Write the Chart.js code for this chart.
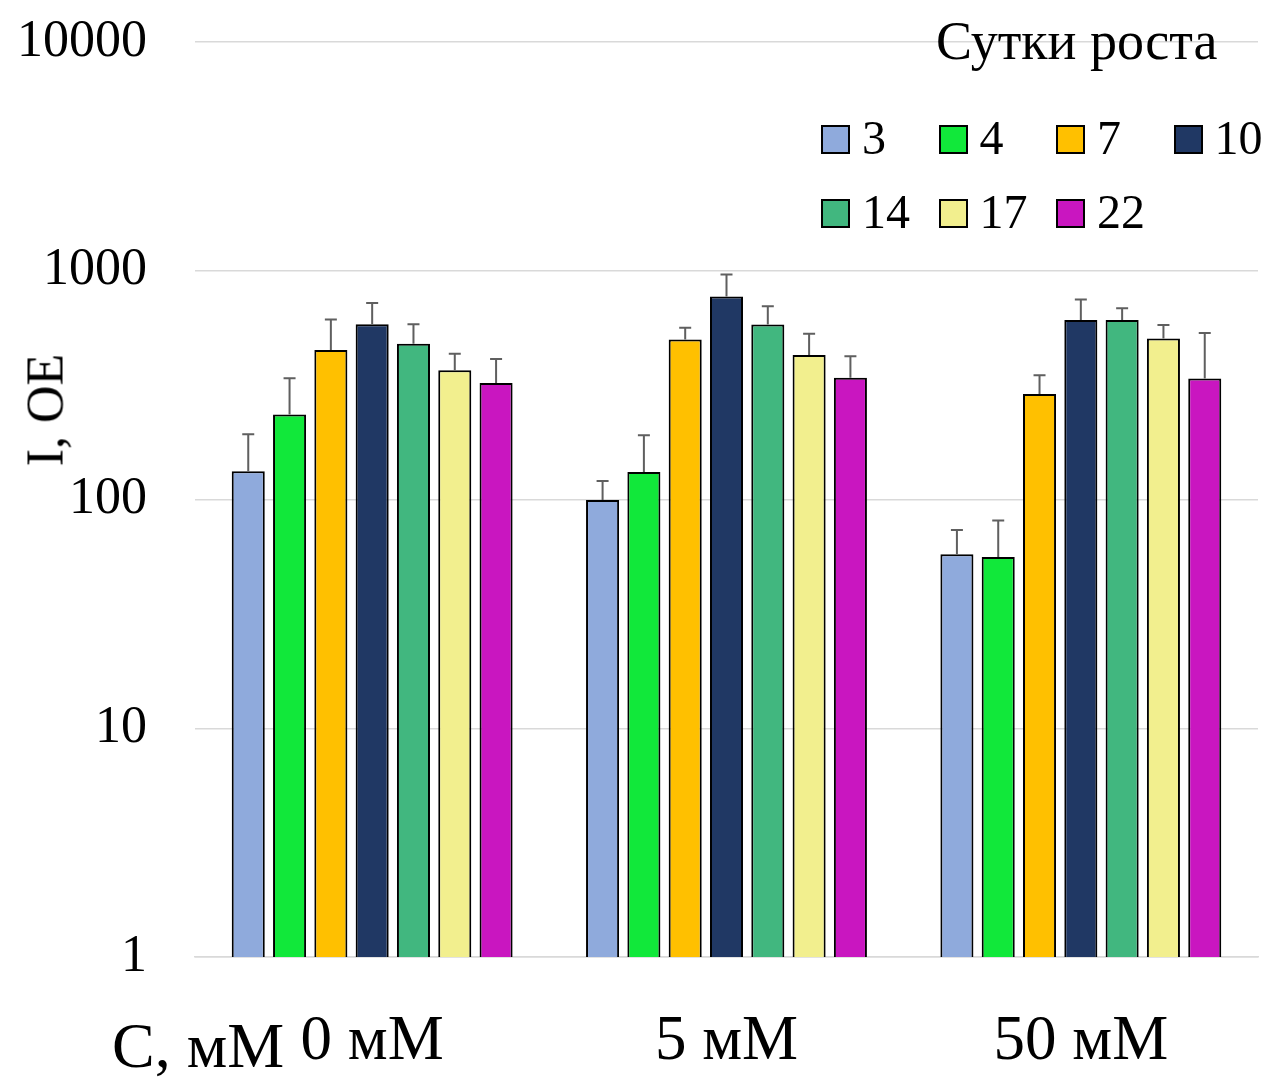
<!DOCTYPE html>
<html>
<head>
<meta charset="utf-8">
<script src="https://cdn.jsdelivr.net/npm/chart.js@4.4.1/dist/chart.umd.min.js"></script>
<style>
  body { margin: 0; background: #fff; }
  #wrap { position: relative; width: 1274px; height: 1080px; font-family: "Liberation Serif", serif; color: #000; }
  #wrap canvas { position: absolute; left: 0; top: 0; }
  .ytitle { position: absolute; left: 45px; top: 410px; font-family: "Liberation Serif", serif; font-size: 52px; transform: translate(-50%, -50%) rotate(-90deg); white-space: nowrap; }
  .xtitle { position: absolute; left: 112px; top: 1014px; font-family: "Liberation Serif", serif; font-size: 64px; white-space: nowrap; line-height: 1; }
  .legend-title { position: absolute; left: 936px; top: 14px; font-family: "Liberation Serif", serif; font-size: 54px; line-height: 1; white-space: nowrap; }
  .legend-item { position: absolute; font-family: "Liberation Serif", serif; font-size: 48px; line-height: 1; white-space: nowrap; }
  .legend-item span.box { display: inline-block; box-sizing: border-box; width: 29px; height: 29px; border: 2px solid #000; margin-right: 12px; vertical-align: 0px; }
</style>
</head>
<body>
<div id="wrap">
  <canvas id="growthChart" width="1274" height="1080"></canvas>
  <div class="ytitle">I, OE</div>
  <div class="xtitle">C, мМ</div>
  <div class="legend-title">Сутки роста</div>
  <div id="legend"></div>
</div>
<script>
// concentration groups and growth days
const concentrations = ['0 мМ', '5 мМ', '50 мМ'];
const days = ['3', '4', '7', '10', '14', '17', '22'];
const dayColors = ['#8FAADC', '#11E83A', '#FFC000', '#203864', '#41B77F', '#F2EF8E', '#C916C0'];

// mean intensity per day (0, 5, 50 mM)
const day3 = [133, 99.5, 57.6];
const day4 = [235, 132, 56];
const day7 = [450, 501, 289];
const day10 = [583, 771, 609];
const day14 = [480, 582, 609];
const day17 = [367, 428, 505];
const day22 = [323, 341, 338];

// upper error (+SD)
const err3 = [60, 21, 16];
const err4 = [104, 59, 25];
const err7 = [162, 63, 60];
const err10 = [139, 191, 139];
const err14 = [103, 117, 76];
const err17 = [67, 103, 74];
const err22 = [88, 82, 196];

const yTicks = [1, 10, 100, 1000, 10000];

const seriesValues = [day3, day4, day7, day10, day14, day17, day22];
const seriesErrors = [err3, err4, err7, err10, err14, err17, err22];

// legend: 4 columns, 2 rows
const legendBox = document.getElementById('legend');
days.forEach((d, i) => {
    const item = document.createElement('div');
    item.className = 'legend-item';
    item.style.left = (821 + (i % 4) * 117.5) + 'px';
    item.style.top = (114 + Math.floor(i / 4) * 74) + 'px';
    item.innerHTML = '<span class="box" style="background:' + dayColors[i] + '"></span>' + d;
    legendBox.appendChild(item);
});

// one-sided error bars with caps
const errorBars = {
    id: 'errorBars',
    afterDatasetsDraw(chart) {
        const ctx = chart.ctx;
        const y = chart.scales.y;
        ctx.save();
        ctx.strokeStyle = '#5f5f5f';
        ctx.lineWidth = 2;
        chart.data.datasets.forEach((ds, i) => {
            const meta = chart.getDatasetMeta(i);
            meta.data.forEach((bar, j) => {
                const top = y.getPixelForValue(ds.data[j] + ds.errors[j]);
                ctx.beginPath();
                ctx.moveTo(bar.x, bar.y);
                ctx.lineTo(bar.x, top);
                ctx.moveTo(bar.x - 6, top);
                ctx.lineTo(bar.x + 6, top);
                ctx.stroke();
            });
        });
        ctx.restore();
    }
};

const ctx = document.getElementById('growthChart').getContext('2d');
const growthChart = new Chart(ctx, {
    type: 'bar',
    data: {
        labels: concentrations,
        datasets: days.map((d, i) => ({
            label: d,
            data: seriesValues[i],
            errors: seriesErrors[i],
            backgroundColor: dayColors[i],
            borderColor: '#000',
            borderWidth: 2,
            categoryPercentage: 0.816,
            barPercentage: 0.8
        }))
    },
    options: {
        responsive: false,
        animation: false,
        layout: { padding: { top: 42, right: 16, left: 0, bottom: 0 } },
        plugins: {
            legend: { display: false },
            tooltip: { enabled: false }
        },
        scales: {
            x: {
                grid: { display: false, drawTicks: false },
                border: { color: '#d9d9d9', width: 1.5 },
                ticks: {
                    color: '#000',
                    padding: 48,
                    font: { family: 'Liberation Serif', size: 63 }
                },
                afterFit: s => { s.height = 123; }
            },
            y: {
                type: 'logarithmic',
                min: 1,
                max: 10000,
                // invisible tick marks push the labels away from the plot
                grid: { color: '#d9d9d9', lineWidth: 1.5, drawTicks: true, tickLength: 48, tickColor: 'rgba(0,0,0,0)' },
                border: { display: false },
                afterBuildTicks: s => { s.ticks = yTicks.map(v => ({ value: v })); },
                ticks: {
                    color: '#000',
                    padding: 0,
                    font: { family: 'Liberation Serif', size: 52 },
                    callback: v => String(v)
                },
                afterFit: s => { s.width = 195; }
            }
        }
    },
    plugins: [errorBars]
});
</script>
</body>
</html>
